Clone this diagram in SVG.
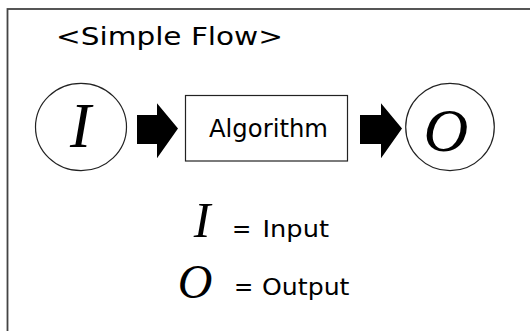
<svg xmlns="http://www.w3.org/2000/svg" width="530" height="331" viewBox="0 0 530 331">
<style>
.sans{font-family:"DejaVu Sans","Noto Sans",sans-serif;fill:#000}
.math{font-family:"Liberation Serif","Times New Roman",serif;font-style:italic;fill:#000}
.shape{fill:#fff;stroke:#222;stroke-width:1.2}
.arrow{fill:#000;stroke:none}
</style>
<rect x="7.5" y="9" width="540" height="340" fill="#fff" stroke="#444" stroke-width="1.8"/>
<text class="sans" x="56" y="44.5" font-size="25" textLength="227" lengthAdjust="spacingAndGlyphs">&lt;Simple Flow&gt;</text>
<g id="input">
<ellipse class="shape" cx="81" cy="127" rx="45.5" ry="43.7"/>
<text class="math" x="80.5" y="146.5" font-size="63" text-anchor="middle">I</text>
</g>
<g id="algorithm">
<rect class="shape" x="185.5" y="95.5" width="162" height="65.5"/>
<text class="sans" x="209" y="137.3" font-size="24.5" textLength="119" lengthAdjust="spacingAndGlyphs">Algorithm</text>
</g>
<g id="output">
<ellipse class="shape" cx="450" cy="127" rx="44.3" ry="43.7"/>
<text class="math" x="446" y="150.5" font-size="62" text-anchor="middle">O</text>
</g>
<g id="connectors">
<polygon class="arrow" points="137,115 157,115 157,103.3 178,128.5 157,158.3 157,144 137,144"/>
<polygon class="arrow" points="360,115 381,115 381,103.3 402,128.5 381,158.3 381,144 360,144"/>
</g>
<g id="legend">
<text class="math" x="202" y="237" font-size="50" text-anchor="middle">I</text>
<text class="sans" x="232" y="237" font-size="23">= <tspan x="262.5" textLength="66.5" lengthAdjust="spacingAndGlyphs">Input</tspan></text>
<text class="math" x="195" y="297.5" font-size="48" text-anchor="middle">O</text>
<text class="sans" x="234" y="295" font-size="23">= <tspan x="262" textLength="87.5" lengthAdjust="spacingAndGlyphs">Output</tspan></text>
</g>
</svg>
